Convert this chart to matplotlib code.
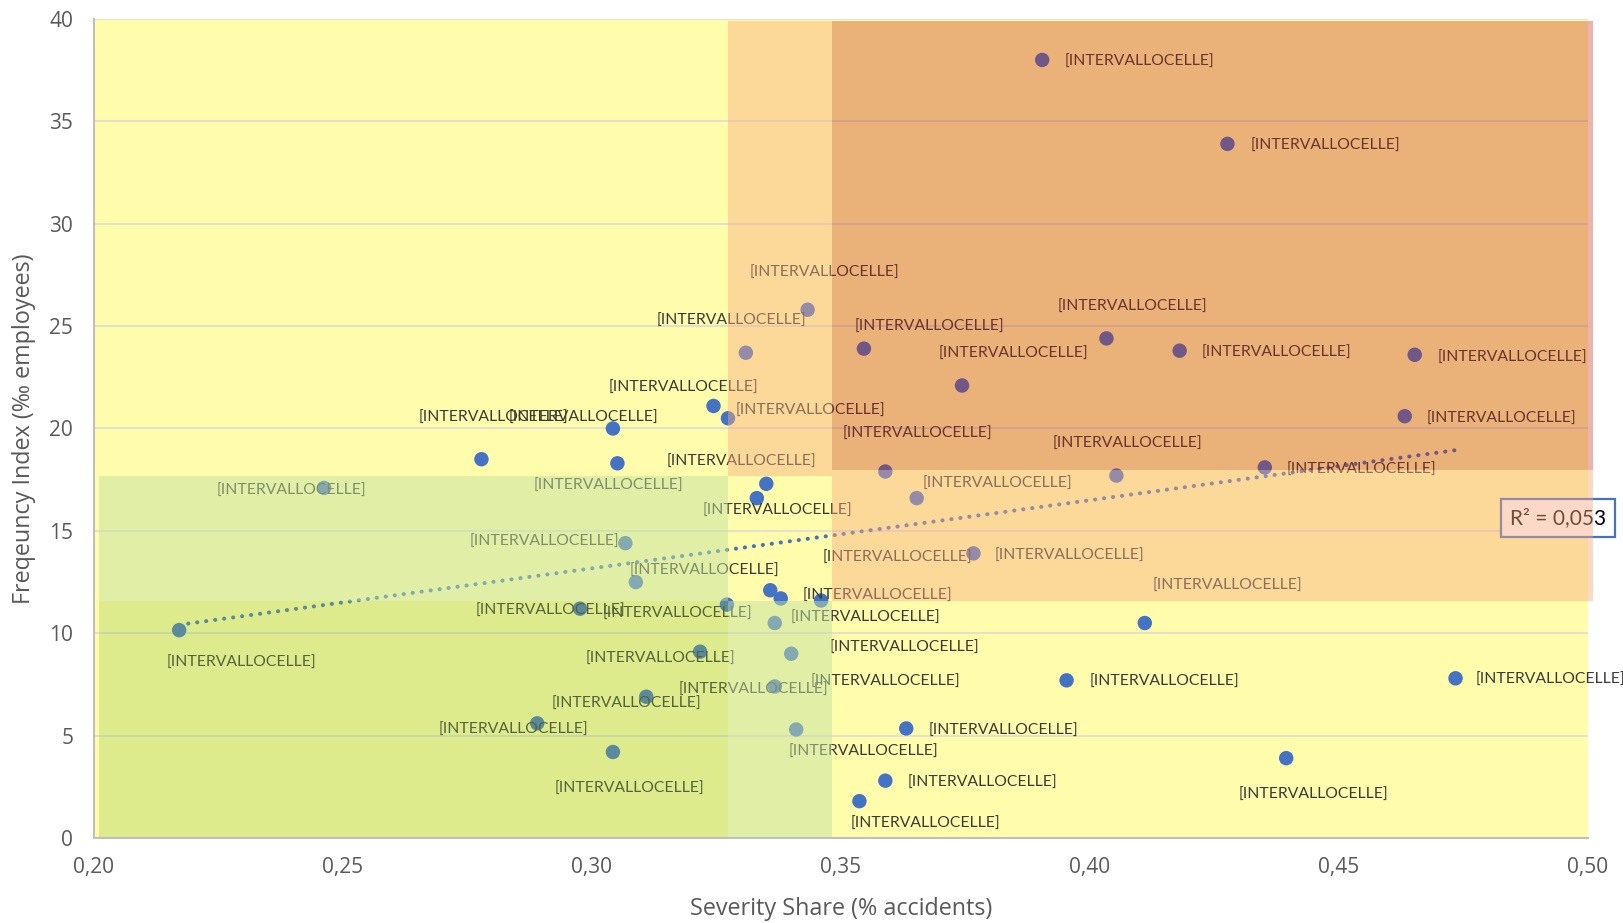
import numpy as np
import matplotlib
matplotlib.use("Agg")
import matplotlib.pyplot as plt
from matplotlib.patches import Rectangle

# ---------------- data ----------------
severity_share = [0.3904, 0.4276, 0.3433, 0.3309, 0.3546, 0.3743, 0.4033, 0.4180, 0.4652, 0.4632,
                  0.4351, 0.3589, 0.3652, 0.4053, 0.3766, 0.4110, 0.3953, 0.4734, 0.3631, 0.4394,
                  0.3589, 0.3537, 0.3244, 0.3273, 0.3042, 0.2778, 0.3051, 0.3350, 0.3331, 0.2462,
                  0.3067, 0.3088, 0.3358, 0.3379, 0.3460, 0.3271, 0.2976, 0.3367, 0.2171, 0.3217,
                  0.3400, 0.3367, 0.3109, 0.2890, 0.3042, 0.3410]
frequency_index = [38.0, 33.9, 25.8, 23.7, 23.9, 22.1, 24.4, 23.8, 23.6, 20.6,
                   18.1, 17.9, 16.6, 17.7, 13.9, 10.5, 7.7, 7.8, 5.35, 3.9,
                   2.8, 1.8, 21.1, 20.5, 20.0, 18.5, 18.3, 17.3, 16.6, 17.1,
                   14.4, 12.5, 12.1, 11.7, 11.6, 11.4, 11.2, 10.5, 10.15, 9.1,
                   9.0, 7.4, 6.9, 5.6, 4.2, 5.3]
point_label = "[INTERVALLOCELLE]"
r2_text = "R\u00b2 = 0,053"
x_ticks = [0.20, 0.25, 0.30, 0.35, 0.40, 0.45, 0.50]
x_tick_labels = ["0,20", "0,25", "0,30", "0,35", "0,40", "0,45", "0,50"]
y_ticks = [0, 5, 10, 15, 20, 25, 30, 35, 40]
x_title = "Severity Share (% accidents)"
y_title = "Freqeuncy Index (\u2030 employees)"

# zone boundaries (risk matrix)
x_bounds = [0.201, 0.3273, 0.3481, 0.501]
y_low, y_mid, y_mid_o, y_top = 11.56, 17.68, 17.97, 39.92

# label offsets in pixels (dx, dy) relative to each point (styling)
label_offsets = [(97, 0), (98, 0), (17, 39), (-14, 34), (66, 24), (51, 34), (26, 34), (97, 0), (98, -1), (97, -1),
                 (97, 0), (32, 40), (81, 16), (11, 34), (96, 0), (83, 39), (98, 0), (95, 0), (97, 0), (27, -35),
                 (97, 0), (66, -21), (-30, 20), (82, 9), (-29, 13), (12, 43), (-9, -21), (-25, 24), (21, -11), (-33, -1),
                 (-81, 3), (69, 13), (107, -4), (85, -17), (76, 45), (-50, -7), (-30, 0), (130, -23), (62, -31), (-40, -5),
                 (94, -26), (-21, -1), (-20, -5), (-24, -5), (17, -35), (67, -20)]
label_shift_y = -2

# ---------------- figure ----------------
W, H, DPI = 1623, 923, 100
fig = plt.figure(figsize=(W / DPI, H / DPI), dpi=DPI)
fig.patch.set_facecolor("white")
ax = fig.add_axes([94 / W, 1 - 838 / H, (1588 - 94) / W, (838 - 19) / H])
ax.set_facecolor("#FFFDAC")
ax.set_xlim(0.20, 0.50)
ax.set_ylim(0, 40)

tick_font = ["Open Sans", "DejaVu Sans"]
ax.set_xticks(x_ticks)
ax.set_xticklabels(x_tick_labels, fontfamily=tick_font, fontsize=15, color="#595959")
ax.set_yticks(y_ticks)
ax.set_yticklabels([str(v) for v in y_ticks], fontfamily=tick_font, fontsize=15, color="#595959")
ax.tick_params(axis="both", length=0)
ax.tick_params(axis="x", pad=14)
ax.tick_params(axis="y", pad=15)
ax.grid(axis="y", color="#D9D9D9", lw=1.1, zorder=0)
ax.set_axisbelow(True)
for s in ["top", "right"]:
    ax.spines[s].set_visible(False)
for s in ["left", "bottom"]:
    ax.spines[s].set_color("#BFBFBF")
    ax.spines[s].set_linewidth(1.5)

ax.set_xlabel(x_title, fontfamily=tick_font, fontsize=16.8, color="#595959")
ax.set_ylabel(y_title, fontfamily=tick_font, fontsize=16.8, color="#595959")
ax.xaxis.set_label_coords(0.5, (838 - 909) / 819)
ax.xaxis.label.set_va("center")
ax.yaxis.set_label_coords((24 - 94) / 1494, 0.5)
ax.yaxis.label.set_va("center")

xs = np.array(severity_share)
ys = np.array(frequency_index)

# trendline (linear least squares)
slope, intercept = np.polyfit(xs, ys, 1)
tx = np.array([xs.min(), xs.max()])
ax.plot(tx, slope * tx + intercept, color="#4472C4", lw=2.9, linestyle=(0, (0.05, 2.2)),
        dash_capstyle="round", zorder=2)

# points
ax.scatter(xs, ys, s=108, color="#4472C4", edgecolors="none", zorder=3)

# labels
for x, y, (dx, dy) in zip(xs, ys, label_offsets):
    ax.annotate(point_label, (x, y), xytext=(dx, dy + label_shift_y), textcoords="offset pixels",
                ha="center", va="center", fontsize=11.3, fontfamily=["Lato", "DejaVu Sans"],
                color="#3A3A3A", zorder=3.5)

# R2 box
ax.text((1558 - 94) / 1494, (838 - 518) / 819, r2_text, transform=ax.transAxes,
        ha="center", va="center", fontsize=15, fontfamily=["Lato", "DejaVu Sans"], color="black",
        bbox=dict(boxstyle="square,pad=0.42", fc="white", ec="#4472C4", lw=1.6),
        zorder=4, clip_on=False)

# overlay zones (semi-transparent shapes on top)
def zone(x0, x1, y0, y1, color, alpha):
    ax.add_patch(Rectangle((x0, y0), x1 - x0, y1 - y0, facecolor=color, alpha=alpha,
                           edgecolor="none", zorder=5, clip_on=False))

dark_orange = (195 / 255, 39 / 255, 25 / 255)
light_orange = (250 / 255, 171 / 255, 132 / 255)
light_green = (197 / 255, 225 / 255, 159 / 255)
dark_green = (145 / 255, 196 / 255, 67 / 255)

zone(x_bounds[2], x_bounds[3], y_mid_o, y_top, dark_orange, 0.35)
zone(x_bounds[1], x_bounds[2], y_mid, y_top, light_orange, 0.45)
zone(x_bounds[2], x_bounds[3], y_low, y_mid_o, light_orange, 0.45)
zone(x_bounds[0], x_bounds[1], y_low, y_mid, light_green, 0.5)
zone(x_bounds[1], x_bounds[2], 0.05, y_low, light_green, 0.5)
zone(x_bounds[0], x_bounds[1], 0.05, y_low, dark_green, 0.3)

fig.savefig("out.png", dpi=DPI)
